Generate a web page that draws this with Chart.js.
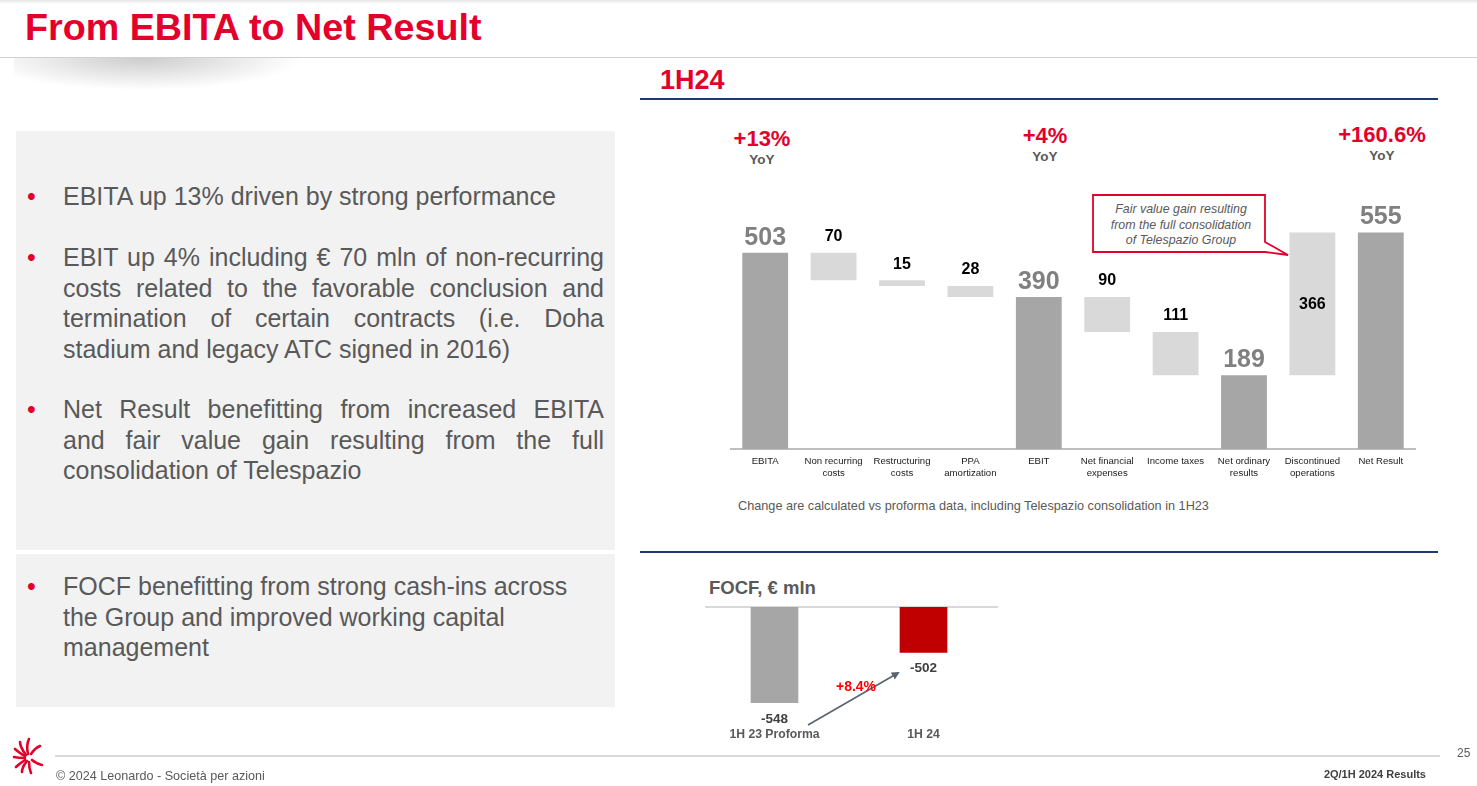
<!DOCTYPE html>
<html>
<head>
<meta charset="utf-8">
<script src="https://cdn.jsdelivr.net/npm/chart.js@4.4.1/dist/chart.umd.min.js"></script>
<style>
  body { margin: 0; width: 1477px; height: 786px; position: relative; overflow: hidden; background: #fff; font-family: "Liberation Sans", Arial, sans-serif; }
  .abs { position: absolute; }
  .panel { position: absolute; background: #f2f2f2; }
  .para { position: absolute; left: 63px; width: 541px; font-size: 25px; line-height: 30.5px; color: #595959; }
  .para .j { text-align: justify; text-align-last: justify; }
  .dot { position: absolute; left: 27px; font-size: 25px; line-height: 30.5px; color: #e4002b; }
  .pct { position: absolute; width: 140px; text-align: center; font-weight: bold; font-size: 22px; color: #e4002b; }
  .yoy { position: absolute; width: 140px; text-align: center; font-weight: bold; font-size: 13.5px; color: #595959; }
</style>
</head>
<body>
<!-- top edge and title -->
<div class="abs" style="left:0;top:0;width:1477px;height:4px;background:linear-gradient(#e6e6e6,#fff)"></div>
<div class="abs" style="left:25px;top:5px;font-size:37.7px;font-weight:bold;color:#e4002b;line-height:44px">From EBITA to Net Result</div>
<div class="abs" style="left:0;top:57px;width:1477px;height:1px;background:#d0d0d0"></div>
<div class="abs" style="left:14px;top:58px;width:320px;height:32px;background:radial-gradient(ellipse 50% 100% at 40% 0%, rgba(0,0,0,0.2), rgba(0,0,0,0) 100%)"></div>

<!-- left panels -->
<div class="panel" style="left:16px;top:131px;width:599px;height:419px"></div>
<div class="panel" style="left:16px;top:554px;width:599px;height:153px"></div>

<div class="dot" style="top:181px">•</div>
<div class="para" style="top:181px"><div>EBITA up 13% driven by strong performance</div></div>

<div class="dot" style="top:242px">•</div>
<div class="para" style="top:242px">
  <div class="j">EBIT up 4% including € 70 mln of non-recurring</div>
  <div class="j">costs related to the favorable conclusion and</div>
  <div class="j">termination of certain contracts (i.e. Doha</div>
  <div>stadium and legacy ATC signed in 2016)</div>
</div>

<div class="dot" style="top:394px">•</div>
<div class="para" style="top:394px">
  <div class="j">Net Result benefitting from increased EBITA</div>
  <div class="j">and fair value gain resulting from the full</div>
  <div>consolidation of Telespazio</div>
</div>

<div class="dot" style="top:571px">•</div>
<div class="para" style="top:571px">
  <div>FOCF benefitting from strong cash-ins across</div>
  <div>the Group and improved working capital</div>
  <div>management</div>
</div>

<!-- right header -->
<div class="abs" style="left:660px;top:64px;font-size:27px;font-weight:bold;color:#e4002b;line-height:32px">1H24</div>
<div class="abs" style="left:640px;top:98px;width:798px;height:2px;background:#1f3a6e"></div>

<div class="pct" style="left:692px;top:126px">+13%</div>
<div class="yoy" style="left:692px;top:152px">YoY</div>
<div class="pct" style="left:975px;top:123px">+4%</div>
<div class="yoy" style="left:975px;top:149px">YoY</div>
<div class="pct" style="left:1312px;top:122px">+160.6%</div>
<div class="yoy" style="left:1312px;top:148px">YoY</div>

<!-- callout -->
<svg class="abs" style="left:0;top:0" width="1477" height="786">
  <path d="M1093,195 H1265 V242 L1288,255 L1265,252 H1093 Z" fill="#fff" stroke="#e4002b" stroke-width="1.8"/>
</svg>
<div class="abs" style="left:1095px;top:202px;width:172px;text-align:center;font-style:italic;font-size:12.4px;line-height:15.5px;color:#595959">Fair value gain resulting<br>from the full consolidation<br>of Telespazio Group</div>

<canvas id="wf" class="abs" style="left:720px;top:190px" width="710" height="300"></canvas>

<div class="abs" style="left:738px;top:499px;font-size:12.7px;color:#595959">Change are calculated vs proforma data, including Telespazio consolidation in 1H23</div>
<div class="abs" style="left:640px;top:551px;width:798px;height:2px;background:#1f3a6e"></div>

<!-- FOCF -->
<div class="abs" style="left:709px;top:577px;font-size:18.5px;font-weight:bold;color:#595959">FOCF, € mln</div>
<canvas id="focf" class="abs" style="left:700px;top:600px" width="310" height="150"></canvas>
<svg class="abs" style="left:0;top:0" width="1477" height="786">
  <defs>
    <marker id="ah" markerWidth="8" markerHeight="8" refX="6" refY="4" orient="auto" markerUnits="userSpaceOnUse">
      <path d="M0,0 L8,4 L0,8 Z" fill="#5a6370"/>
    </marker>
  </defs>
  <line x1="808" y1="725" x2="898" y2="673" stroke="#5a6370" stroke-width="1.6" marker-end="url(#ah)"/>
</svg>
<div class="abs" style="left:826px;top:678px;width:60px;text-align:center;font-size:14px;font-weight:bold;color:#ff0000">+8.4%</div>

<!-- footer -->
<svg class="abs" style="left:10px;top:736px" width="40" height="40">
  <g stroke="#e4002b" stroke-width="2.6" stroke-linecap="round" fill="none">
    <path d="M18,18 Q16,9 19,3"/>
    <path d="M16,19 Q10,11 10,6"/>
    <path d="M15,20 Q8,16 5,13"/>
    <path d="M15,22 Q8,22 4,21"/>
    <path d="M15,24 Q9,28 6,31"/>
    <path d="M17,25 Q12,31 12,36"/>
    <path d="M19,26 Q19,32 21,37"/>
    <path d="M21,18 Q25,12 30,10"/>
    <path d="M22,24 Q27,28 32,29"/>
  </g>
</svg>
<div class="abs" style="left:55px;top:755px;width:1385px;height:2px;background:#d9d9d9"></div>
<div class="abs" style="left:1457px;top:746px;font-size:12px;color:#595959">25</div>
<div class="abs" style="left:56px;top:769px;font-size:12.6px;color:#595959">© 2024 Leonardo - Società per azioni</div>
<div class="abs" style="left:1226px;top:768px;width:200px;text-align:right;font-size:11px;font-weight:bold;color:#404040">2Q/1H 2024 Results</div>

<script>
const FONT = '"Liberation Sans", Arial, sans-serif';

// waterfall data (€ mln)
const categories = ['EBITA', ['Non recurring', 'costs'], ['Restructuring', 'costs'], ['PPA', 'amortization'], 'EBIT',
  ['Net financial', 'expenses'], 'Income taxes', ['Net ordinary', 'results'], ['Discontinued', 'operations'], 'Net Result'];
const amounts = [503, -70, -15, -28, 390, -90, -111, 189, 366, 555];
const isTotal = [true, false, false, false, true, false, false, true, false, true];
const labelInside = [false, false, false, false, false, false, false, false, true, false];

// FOCF data (€ mln)
const focfLabels = ['1H 23 Proforma', '1H 24'];
const focfValues = [-548, -502];

// build floating ranges for the waterfall
let running = 0;
const ranges = amounts.map((v, i) => {
  if (isTotal[i]) { running = v; return [0, v]; }
  const start = running;
  running = start + v;
  return [Math.min(start, running), Math.max(start, running)];
});
const wfColors = isTotal.map(t => t ? '#a6a6a6' : '#d9d9d9');

const wfLabels = {
  id: 'wfLabels',
  afterDatasetsDraw(chart) {
    const ctx = chart.ctx;
    chart.getDatasetMeta(0).data.forEach((bar, i) => {
      const txt = String(Math.abs(amounts[i]));
      ctx.save();
      ctx.textAlign = 'center';
      ctx.textBaseline = 'middle';
      if (isTotal[i]) {
        ctx.font = 'bold 25px ' + FONT;
        ctx.fillStyle = '#808080';
        ctx.fillText(txt, bar.x, bar.y - 15);
      } else if (labelInside[i]) {
        ctx.font = 'bold 16px ' + FONT;
        ctx.fillStyle = '#000';
        ctx.fillText(txt, bar.x, (bar.y + bar.base) / 2 + 1);
      } else {
        ctx.font = 'bold 16px ' + FONT;
        ctx.fillStyle = '#000';
        ctx.fillText(txt, bar.x, bar.y - 16);
      }
      ctx.restore();
    });
  }
};

new Chart(document.getElementById('wf'), {
  type: 'bar',
  data: {
    labels: categories,
    datasets: [{ data: ranges, backgroundColor: wfColors, barPercentage: 0.67, categoryPercentage: 1, borderSkipped: false }]
  },
  options: {
    responsive: false,
    animation: false,
    layout: { padding: { left: 11, right: 15, top: 25, bottom: 0 } },
    plugins: { legend: { display: false }, tooltip: { enabled: false } },
    scales: {
      x: {
        grid: { display: false, drawTicks: false },
        border: { display: true, color: '#bfbfbf', width: 2 },
        ticks: { font: { family: FONT, size: 9.6 }, color: '#1a1a1a', padding: 7, maxRotation: 0, autoSkip: false },
        afterFit: axis => { axis.height = 41; }
      },
      y: { display: false, min: 0, max: 600 }
    }
  },
  plugins: [wfLabels]
});

const focfExtras = {
  id: 'focfExtras',
  beforeDatasetsDraw(chart) {
    const { ctx, chartArea } = chart;
    ctx.save();
    ctx.strokeStyle = '#d9d9d9';
    ctx.lineWidth = 2;
    ctx.beginPath();
    ctx.moveTo(chartArea.left + 5, chartArea.top);
    ctx.lineTo(chartArea.right, chartArea.top);
    ctx.stroke();
    ctx.restore();
  },
  afterDatasetsDraw(chart) {
    const ctx = chart.ctx;
    chart.getDatasetMeta(0).data.forEach((bar, i) => {
      ctx.save();
      ctx.font = 'bold 13.5px ' + FONT;
      ctx.fillStyle = '#404040';
      ctx.textAlign = 'center';
      ctx.textBaseline = 'middle';
      ctx.fillText(String(focfValues[i]), bar.x, bar.y + 16);
      ctx.restore();
    });
  }
};

new Chart(document.getElementById('focf'), {
  type: 'bar',
  data: {
    labels: focfLabels,
    datasets: [{ data: focfValues, backgroundColor: ['#a6a6a6', '#c00000'], barPercentage: 0.32, categoryPercentage: 1 }]
  },
  options: {
    responsive: false,
    animation: false,
    layout: { padding: { left: 0, right: 12, top: 7, bottom: 0 } },
    plugins: { legend: { display: false }, tooltip: { enabled: false } },
    scales: {
      x: {
        grid: { display: false, drawTicks: false },
        border: { display: false },
        ticks: { font: { family: FONT, size: 12.2, weight: 'bold' }, color: '#595959', padding: 11, maxRotation: 0 },
        afterFit: axis => { axis.height = 34; }
      },
      y: { display: false, min: -560, max: -460, beginAtZero: false }
    }
  },
  plugins: [focfExtras]
});
</script>
</body>
</html>
